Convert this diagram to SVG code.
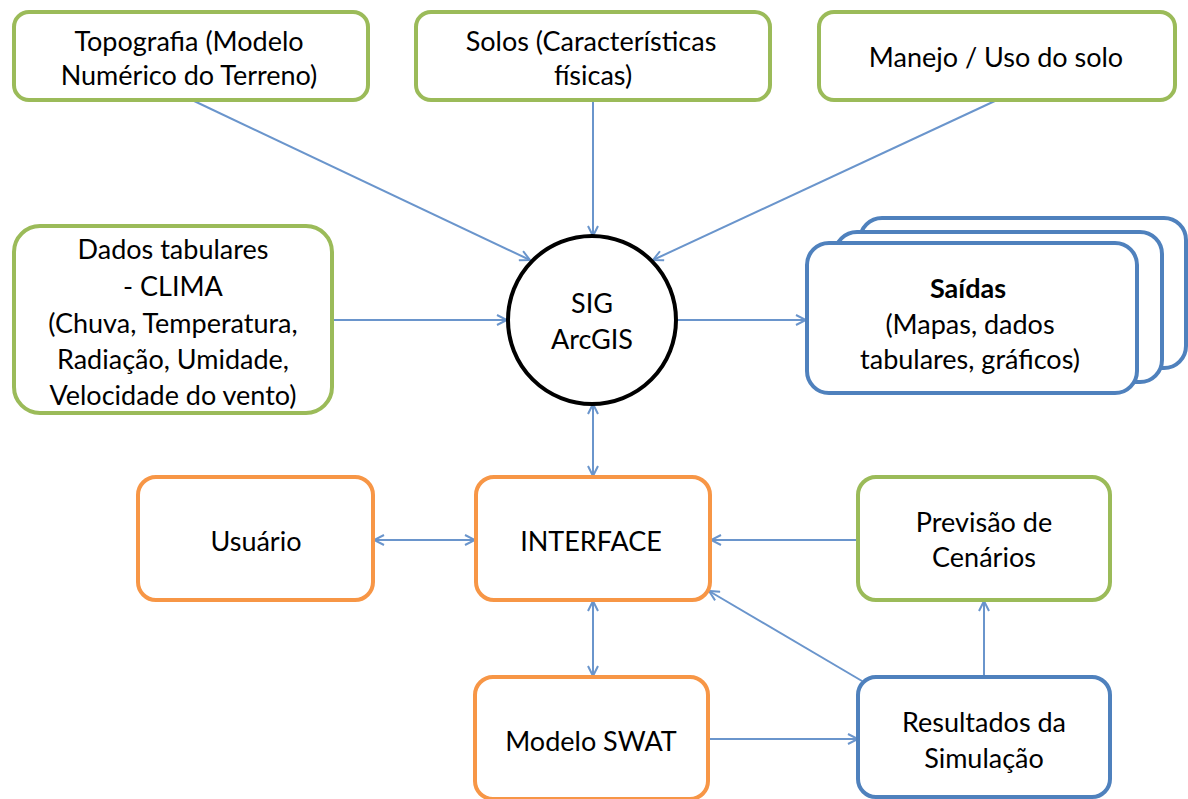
<svg xmlns="http://www.w3.org/2000/svg" width="1188" height="799" viewBox="0 0 1188 799">
<defs>
<style>
.g{fill:#fff;stroke:#9BBB59;stroke-width:4}
.o{fill:#fff;stroke:#F79646;stroke-width:4}
.b{fill:#fff;stroke:#4F81BD;stroke-width:4}
.t{font-family:Lato,"Open Sans","Liberation Sans",sans-serif;font-size:27px;fill:#000;text-anchor:middle;dominant-baseline:central}
.bold{font-weight:bold}
.c{fill:none;stroke:#6A95CC;stroke-width:2}
</style>
<marker id="ah" viewBox="0 0 12 12" refX="11" refY="6" markerWidth="12" markerHeight="12" markerUnits="userSpaceOnUse" orient="auto-start-reverse">
<path d="M1,1 L11,6 L1,11" fill="none" stroke="#6A95CC" stroke-width="2"/>
</marker>
</defs>
<rect width="1188" height="799" fill="#fff"/>
<g id="connectors">
<line class="c" x1="192" y1="100" x2="530" y2="260" marker-end="url(#ah)"/>
<line class="c" x1="593" y1="100" x2="593" y2="236" marker-end="url(#ah)"/>
<line class="c" x1="997" y1="100" x2="653" y2="260" marker-end="url(#ah)"/>
<line class="c" x1="332" y1="320" x2="507" y2="320" marker-end="url(#ah)"/>
<line class="c" x1="677" y1="320" x2="806" y2="320" marker-end="url(#ah)"/>
<line class="c" x1="593" y1="404" x2="593" y2="476" marker-start="url(#ah)" marker-end="url(#ah)"/>
<line class="c" x1="374" y1="540" x2="475" y2="540" marker-start="url(#ah)" marker-end="url(#ah)"/>
<line class="c" x1="858" y1="540" x2="711" y2="540" marker-end="url(#ah)"/>
<line class="c" x1="862" y1="681" x2="709" y2="591" marker-end="url(#ah)"/>
<line class="c" x1="984" y1="677" x2="984" y2="601" marker-end="url(#ah)"/>
<line class="c" x1="708" y1="739" x2="858" y2="739" marker-end="url(#ah)"/>
<line class="c" x1="593" y1="601" x2="593" y2="676" marker-start="url(#ah)" marker-end="url(#ah)"/>
</g>
<g id="topografia">
<rect class="g" x="14" y="12" width="354" height="88" rx="15"/>
<text class="t" x="189" y="40">Topografia (Modelo</text>
<text class="t" x="189" y="74">Numérico do Terreno)</text>
</g>
<g id="solos">
<rect class="g" x="416" y="12" width="354" height="88" rx="15"/>
<text class="t" x="591" y="40">Solos (Características</text>
<text class="t" x="593" y="74">físicas)</text>
</g>
<g id="manejo">
<rect class="g" x="819" y="12" width="356" height="88" rx="15"/>
<text class="t" x="996" y="56">Manejo / Uso do solo</text>
</g>
<g id="dados">
<rect class="g" x="14" y="226" width="318" height="187" rx="26"/>
<text class="t" x="173" y="248">Dados tabulares</text>
<text class="t" x="173" y="285">- CLIMA</text>
<text class="t" x="173" y="322">(Chuva, Temperatura,</text>
<text class="t" x="173" y="358">Radiação, Umidade,</text>
<text class="t" x="173" y="394">Velocidade do vento)</text>
</g>
<g id="sig">
<circle cx="592" cy="320" r="84" fill="#fff" stroke="#000" stroke-width="4"/>
<text class="t" x="592" y="302">SIG</text>
<text class="t" x="592" y="338">ArcGIS</text>
</g>
<g id="saidas">
<rect class="b" x="860" y="218" width="326" height="150" rx="22"/>
<rect class="b" x="835" y="232" width="327" height="150" rx="22"/>
<rect class="b" x="807" y="243" width="330" height="150" rx="22"/>
<text class="t bold" x="968" y="287">Saídas</text>
<text class="t" x="970" y="323">(Mapas, dados</text>
<text class="t" x="970" y="358">tabulares, gráficos)</text>
</g>
<g id="usuario">
<rect class="o" x="138" y="477" width="235" height="123" rx="18"/>
<text class="t" x="256" y="540">Usuário</text>
</g>
<g id="interface">
<rect class="o" x="476" y="477" width="234" height="123" rx="18"/>
<text class="t" x="591" y="540">INTERFACE</text>
</g>
<g id="previsao">
<rect class="g" x="858" y="477" width="252" height="123" rx="18"/>
<text class="t" x="984" y="521">Previsão de</text>
<text class="t" x="984" y="556">Cenários</text>
</g>
<g id="modelo">
<rect class="o" x="475" y="677" width="233" height="122" rx="18"/>
<text class="t" x="591" y="740">Modelo SWAT</text>
</g>
<g id="resultados">
<rect class="b" x="858" y="677" width="252" height="120" rx="18"/>
<text class="t" x="984" y="721">Resultados da</text>
<text class="t" x="984" y="757">Simulação</text>
</g>
</svg>
